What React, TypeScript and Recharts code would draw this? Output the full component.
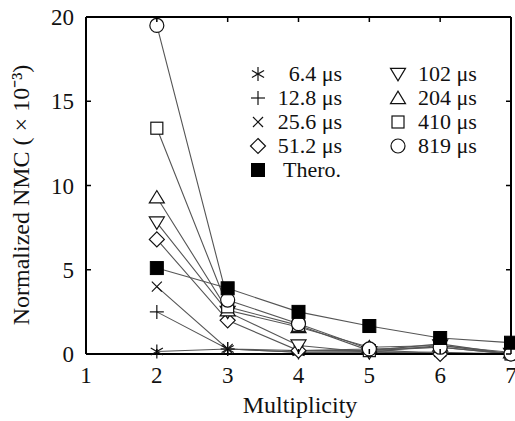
import React from "react";
import { LineChart, Line, XAxis, YAxis, ReferenceLine } from "recharts";

const multiplicity = [2, 3, 4, 5, 6, 7];
const s6_4 = [0.15, 0.3, 0.1, 0.1, 0.05, 0.0];
const s12_8 = [2.5, 0.3, 0.1, 0.15, 0.1, 0.0];
const s25_6 = [4.0, 0.3, 0.2, 0.2, 0.4, 0.0];
const s51_2 = [6.8, 2.0, 0.2, 0.3, 0.0, 0.05];
const s102 = [7.8, 2.5, 0.5, 0.1, 0.5, 0.0];
const s204 = [9.3, 2.6, 1.6, 0.4, 0.5, 0.1];
const s410 = [13.4, 2.8, 1.7, 0.2, 0.6, 0.0];
const s819 = [19.5, 3.2, 1.8, 0.3, 0.4, 0.0];
const thero = [5.1, 3.9, 2.5, 1.66, 0.95, 0.67];

const xTicks = [1, 2, 3, 4, 5, 6, 7];
const yTicks = [0, 5, 10, 15, 20];

type Kind = "star" | "plus" | "cross" | "diamond" | "down" | "up" | "square" | "circle" | "filled";

const seriesDefs: { key: string; label: string; kind: Kind; values: number[] }[] = [
  { key: "a", label: "6.4 μs", kind: "star", values: s6_4 },
  { key: "b", label: "12.8 μs", kind: "plus", values: s12_8 },
  { key: "c", label: "25.6 μs", kind: "cross", values: s25_6 },
  { key: "d", label: "51.2 μs", kind: "diamond", values: s51_2 },
  { key: "e", label: "102 μs", kind: "down", values: s102 },
  { key: "f", label: "204 μs", kind: "up", values: s204 },
  { key: "g", label: "410 μs", kind: "square", values: s410 },
  { key: "h", label: "819 μs", kind: "circle", values: s819 },
  { key: "t", label: "Thero.", kind: "filled", values: thero },
];

const data = multiplicity.map((m, i) => {
  const row: Record<string, number> = { x: m };
  seriesDefs.forEach((s) => {
    row[s.key] = s.values[i];
  });
  return row;
});

const FONT = "'Liberation Serif', 'Times New Roman', serif";
const LEFT = 86;
const RIGHT = 511;
const TOP = 17;
const BOTTOM = 354;

function marker(kind: Kind, cx: number, cy: number, key?: string) {
  const sw = 1.2;
  const st = "#111";
  switch (kind) {
    case "star": {
      const r = 7;
      const a = r * Math.cos(Math.PI / 6);
      const b = r * Math.sin(Math.PI / 6);
      return (
        <g key={key} stroke={st} strokeWidth={sw}>
          <line x1={cx} y1={cy - r} x2={cx} y2={cy + r} />
          <line x1={cx - a} y1={cy - b} x2={cx + a} y2={cy + b} />
          <line x1={cx - a} y1={cy + b} x2={cx + a} y2={cy - b} />
        </g>
      );
    }
    case "plus": {
      const r = 7;
      return (
        <g key={key} stroke={st} strokeWidth={sw}>
          <line x1={cx - r} y1={cy} x2={cx + r} y2={cy} />
          <line x1={cx} y1={cy - r} x2={cx} y2={cy + r} />
        </g>
      );
    }
    case "cross": {
      const r = 5;
      return (
        <g key={key} stroke={st} strokeWidth={sw}>
          <line x1={cx - r} y1={cy - r} x2={cx + r} y2={cy + r} />
          <line x1={cx - r} y1={cy + r} x2={cx + r} y2={cy - r} />
        </g>
      );
    }
    case "diamond": {
      const r = 7.5;
      return (
        <polygon key={key} points={`${cx},${cy - r} ${cx + r},${cy} ${cx},${cy + r} ${cx - r},${cy}`} fill="#fff" stroke={st} strokeWidth={sw} />
      );
    }
    case "down": {
      const r = 7.5;
      return (
        <polygon key={key} points={`${cx - r},${cy - r * 0.75} ${cx + r},${cy - r * 0.75} ${cx},${cy + r * 0.9}`} fill="#fff" stroke={st} strokeWidth={sw} />
      );
    }
    case "up": {
      const r = 7.5;
      return (
        <polygon key={key} points={`${cx - r},${cy + r * 0.75} ${cx + r},${cy + r * 0.75} ${cx},${cy - r * 0.9}`} fill="#fff" stroke={st} strokeWidth={sw} />
      );
    }
    case "square": {
      const r = 6;
      return <rect key={key} x={cx - r} y={cy - r} width={2 * r} height={2 * r} fill="#fff" stroke={st} strokeWidth={sw} />;
    }
    case "circle":
      return <circle key={key} cx={cx} cy={cy} r={7} fill="#fff" stroke={st} strokeWidth={sw} />;
    case "filled": {
      const r = 6.5;
      return <rect key={key} x={cx - r} y={cy - r} width={2 * r} height={2 * r} fill="#000" stroke="#000" strokeWidth={1} />;
    }
  }
  return null;
}

const XTick = (props: any) => {
  const c = props.payload.coordinate;
  return (
    <g>
      <line x1={c} y1={BOTTOM} x2={c} y2={BOTTOM - 5} stroke="#000" strokeWidth={1.5} />
      <line x1={c} y1={TOP} x2={c} y2={TOP + 5} stroke="#000" strokeWidth={1.5} />
      <text x={c} y={383} textAnchor="middle" fontFamily={FONT} fontSize={23} fill="#111">
        {props.payload.value}
      </text>
    </g>
  );
};

const YTick = (props: any) => {
  const c = props.payload.coordinate;
  return (
    <g>
      <line x1={LEFT} y1={c} x2={LEFT + 5} y2={c} stroke="#000" strokeWidth={1.5} />
      <line x1={RIGHT} y1={c} x2={RIGHT - 5} y2={c} stroke="#000" strokeWidth={1.5} />
      <text x={74} y={c + 8} textAnchor="end" fontFamily={FONT} fontSize={23} fill="#111">
        {props.payload.value}
      </text>
    </g>
  );
};

const XLabel = () => (
  <text x={300} y={413} textAnchor="middle" fontFamily={FONT} fontSize={24} fill="#111">
    Multiplicity
  </text>
);

const YLabel = () => (
  <text x={29} y={195} transform="rotate(-90 29 195)" textAnchor="middle" fontFamily={FONT} fontSize={24} fill="#111">
    Normalized NMC ( × 10⁻³)
  </text>
);

const legendLeft = seriesDefs.slice(0, 4);
const legendRight = seriesDefs.slice(4, 8);
const rowY = [74, 98, 122, 146, 170];

export default function App() {
  return (
    <div style={{ position: "absolute", left: 0, top: 0, width: 515, height: 421, background: "#fff" }}>
      <LineChart width={515} height={421} data={data} margin={{ top: TOP, right: 515 - RIGHT, left: 0, bottom: 0 }}>
        <XAxis
          dataKey="x"
          type="number"
          domain={[1, 7]}
          ticks={xTicks}
          tick={<XTick />}
          tickLine={false}
          axisLine={{ stroke: "#000", strokeWidth: 2 }}
          height={421 - BOTTOM}
          label={<XLabel />}
        />
        <YAxis
          type="number"
          domain={[0, 20]}
          ticks={yTicks}
          tick={<YTick />}
          tickLine={false}
          axisLine={{ stroke: "#000", strokeWidth: 2 }}
          width={LEFT}
          label={<YLabel />}
        />
        <ReferenceLine x={7} stroke="#000" strokeWidth={2} ifOverflow="extendDomain" />
        <ReferenceLine y={20} stroke="#000" strokeWidth={2} ifOverflow="extendDomain" />
        {seriesDefs.map((s) => (
          <Line
            key={s.key}
            dataKey={s.key}
            stroke="#555"
            strokeWidth={1.1}
            isAnimationActive={false}
            dot={(p: any) => marker(s.kind, p.cx, p.cy, `${s.key}-${p.index}`) as any}
            activeDot={false}
          />
        ))}
      </LineChart>
      <svg width={515} height={421} style={{ position: "absolute", left: 0, top: 0, pointerEvents: "none" }}>
        {legendLeft.map((s, i) => (
          <g key={s.key}>
            {marker(s.kind, 258, rowY[i])}
            <text x={342} y={rowY[i] + 7} textAnchor="end" fontFamily={FONT} fontSize={22} fill="#111">
              {s.label}
            </text>
          </g>
        ))}
        {marker("filled", 258, rowY[4])}
        <text x={283} y={rowY[4] + 7} fontFamily={FONT} fontSize={22} fill="#111">
          Thero.
        </text>
        {legendRight.map((s, i) => (
          <g key={s.key}>
            {marker(s.kind, 398, rowY[i])}
            <text x={418} y={rowY[i] + 7} fontFamily={FONT} fontSize={22} fill="#111">
              {s.label}
            </text>
          </g>
        ))}
      </svg>
    </div>
  );
}
